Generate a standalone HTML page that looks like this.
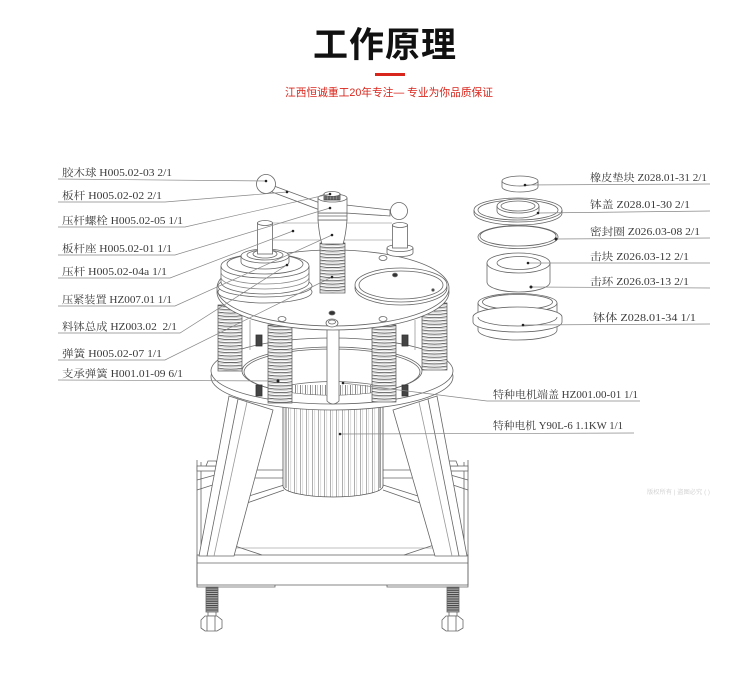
<!DOCTYPE html>
<html><head><meta charset="utf-8"><style>
html,body{margin:0;padding:0;background:#fff;}
body{width:750px;height:676px;overflow:hidden;}
svg{display:block;}
.lb{font-family:"Liberation Serif","Noto Serif CJK SC",serif;font-size:10.5px;fill:#3a3a3a;white-space:pre;}
</style></head><body>
<svg width="750" height="676" viewBox="0 0 750 676" xmlns="http://www.w3.org/2000/svg">
<defs>
<pattern id="coil" patternUnits="userSpaceOnUse" width="26" height="3.3">
<rect width="26" height="3.3" fill="#fff"/>
<path d="M0,0.5 Q12.5,2.6 25,0.5" fill="none" stroke="#333" stroke-width="0.7"/>
<path d="M0,1.8 Q12.5,3.8 25,1.8" fill="none" stroke="#aaa" stroke-width="0.5"/>
</pattern>
<pattern id="ribs" patternUnits="userSpaceOnUse" width="6" height="4">
<rect width="6" height="4" fill="#fff"/>
<line x1="0.5" y1="0" x2="0.5" y2="4" stroke="#777" stroke-width="0.6"/>
<line x1="2.8" y1="0" x2="2.8" y2="4" stroke="#bbb" stroke-width="0.5"/>
</pattern>
<pattern id="teeth" patternUnits="userSpaceOnUse" width="5" height="4">
<rect width="5" height="4" fill="#fff"/>
<line x1="0.5" y1="0" x2="0.5" y2="4" stroke="#555" stroke-width="0.7"/>
<line x1="2.5" y1="0" x2="2.5" y2="4" stroke="#999" stroke-width="0.5"/>
</pattern>
<pattern id="thread" patternUnits="userSpaceOnUse" width="14" height="2.2">
<rect width="14" height="2.2" fill="#bbb"/>
<line x1="0" y1="0.6" x2="14" y2="0.6" stroke="#333" stroke-width="1"/>
</pattern>
<clipPath id="opening"><ellipse cx="332" cy="372" rx="88" ry="23"/></clipPath>
</defs>

<!-- Title -->
<text x="385" y="57" text-anchor="middle" font-family="'Liberation Sans','Noto Sans CJK SC',sans-serif" font-size="35" font-weight="bold" fill="#111" letter-spacing="1">工作原理</text>
<rect x="375" y="73" width="30" height="3" fill="#d9261c"/>
<text x="285" y="96" font-family="'Liberation Sans','Noto Sans CJK SC',sans-serif" font-size="11" fill="#d9261c" textLength="208" lengthAdjust="spacingAndGlyphs">江西恒诚重工20年专注— 专业为你品质保证</text>

<g fill="none" stroke="#666" stroke-width="0.8">
<!-- Base -->
<line x1="230" y1="548" x2="435" y2="548" stroke="#aaa"/>
<rect x="197" y="555" width="271" height="30" fill="#fff"/>
<line x1="197" y1="563" x2="468" y2="563"/>
<path d="M197,585 L197,587 L275,587 L275,585 M387,585 L387,587 L468,587 L468,585"/>
<line x1="197" y1="460" x2="197" y2="585"/>
<line x1="201" y1="462" x2="201" y2="555"/>
<line x1="468" y1="460" x2="468" y2="585"/>
<line x1="464" y1="462" x2="464" y2="555"/>
<path d="M226,543 L262,555 M226,543 L226,555 M440,543 L404,555 M440,543 L440,555"/>
<!-- brackets on uprights -->
<rect x="197" y="466" width="31" height="5" fill="#fff"/>
<polygon points="206,466 208,461 216,461 218,466" fill="#fff"/>
<path d="M197,480 L226,472 M197,490 L222,482"/>
<rect x="437" y="466" width="31" height="5" fill="#fff"/>
<polygon points="446,466 448,461 456,461 458,466" fill="#fff"/>
<path d="M468,480 L440,472 M468,490 L444,482"/>
<!-- cross beams -->
<path d="M257,470 L284,470 M255,478 L284,478 M247,503 L284,490 M249,496 L284,485"/>
<path d="M383,470 L410,470 M383,478 L412,478 M383,490 L420,503 M383,485 L418,496"/>
<!-- Legs -->
<polygon points="229,396 273,410 234,556 199,556" fill="#fff"/>
<line x1="238" y1="399" x2="207" y2="556"/>
<line x1="247" y1="402" x2="214" y2="556" stroke="#999"/>
<polygon points="393,410 437,396 467,556 435,556" fill="#fff"/>
<line x1="428" y1="399" x2="459" y2="556"/>
<line x1="419" y1="402" x2="452" y2="556" stroke="#999"/>

<!-- Feet -->
<rect x="206" y="587" width="12" height="25" fill="url(#thread)"/>
<rect x="208" y="612" width="8" height="4" fill="#fff"/>
<polygon points="201,620 205,616 217,616 222,620 222,628 217,631 205,631 201,628" fill="#fff"/>
<path d="M207,616 L207,631 M215,616 L215,631"/>
<rect x="447" y="587" width="12" height="25" fill="url(#thread)"/>
<rect x="449" y="612" width="8" height="4" fill="#fff"/>
<polygon points="442,620 446,616 458,616 463,620 463,628 458,631 446,631 442,628" fill="#fff"/>
<path d="M448,616 L448,631 M456,616 L456,631"/>

<!-- Motor -->
<path d="M283,398 L383,398 L383,486 A50,11 0 0 1 283,486 Z" fill="url(#ribs)" stroke="#555"/>
<path d="M286,400 L286,488 M380,400 L380,488" stroke="#555"/>

<!-- Lower plate -->
<ellipse cx="332" cy="377" rx="121" ry="33" fill="#fff"/>
<ellipse cx="332" cy="371" rx="121" ry="33" fill="#fff"/>
<ellipse cx="332" cy="371" rx="90" ry="24" fill="#fff"/>
<ellipse cx="332" cy="372" rx="88" ry="23" fill="#fff"/>
<g clip-path="url(#opening)">
<rect x="290" y="385" width="86" height="14" fill="url(#teeth)" stroke="none"/>
<path d="M290,385 Q333,378 376,385"/>
</g>

<!-- back springs -->
<g transform="translate(218,305)"><rect width="24" height="66" fill="url(#coil)" stroke="#555" stroke-width="0.7"/></g>
<g transform="translate(422,303)"><rect width="25" height="67" fill="url(#coil)" stroke="#555" stroke-width="0.7"/></g>
<path d="M250,320 L250,350 M415,320 L415,350" stroke="#999"/>
<rect x="256" y="335" width="6" height="11" fill="#444" stroke="#333"/>
<rect x="402" y="335" width="6" height="11" fill="#444" stroke="#333"/>
<!-- shaft -->
<path d="M327,318 L327,401 Q333,407 339,401 L339,318" fill="#fff"/>
<!-- front springs -->
<g transform="translate(268,325)"><rect width="24" height="78" fill="url(#coil)" stroke="#555" stroke-width="0.7"/></g>
<g transform="translate(372,325)"><rect width="24" height="77" fill="url(#coil)" stroke="#555" stroke-width="0.7"/></g>
<rect x="256" y="385" width="6" height="11" fill="#444" stroke="#333"/>
<rect x="402" y="385" width="6" height="11" fill="#444" stroke="#333"/>

<!-- Top plate -->
<ellipse cx="333" cy="292" rx="116" ry="38" fill="#fff"/>
<ellipse cx="333" cy="288" rx="116" ry="38" fill="#fff"/>
<ellipse cx="282" cy="319" rx="4" ry="2.5" fill="#fff"/>
<ellipse cx="383" cy="319" rx="4" ry="2.5" fill="#fff"/>
<ellipse cx="383" cy="258" rx="4" ry="2.5" fill="#fff"/>
<ellipse cx="332" cy="313" rx="3" ry="2" fill="#333"/>
<ellipse cx="332" cy="323" rx="6" ry="4" fill="#fff"/>
<ellipse cx="332" cy="322" rx="3.5" ry="2"/>
<!-- ring on plate -->
<ellipse cx="401" cy="288" rx="46" ry="17" fill="#fff"/>
<ellipse cx="401" cy="285" rx="46" ry="17" fill="#fff"/>
<ellipse cx="401" cy="285" rx="42" ry="14"/>
<ellipse cx="395" cy="275" rx="2.5" ry="1.8" fill="#333"/>
<circle cx="433" cy="290" r="1.2" fill="#333"/>

<!-- back horizontal lines -->
<path d="M272,223 L392,223 M272,240 L392,240" stroke="#aaa"/>

<!-- screw spring -->
<g transform="translate(320,243)"><rect width="25" height="50" fill="url(#coil)" stroke="#555" stroke-width="0.7"/></g>

<!-- pulley stack -->
<ellipse cx="265" cy="292" rx="47" ry="11" fill="#fff"/>
<ellipse cx="265" cy="286" rx="47" ry="11" fill="#fff"/>
<path d="M221,266 L221,282 A44,12 0 0 0 309,282 L309,266" fill="#fff"/>
<path d="M221,272 A44,12 0 0 0 309,272 M221,277 A44,12 0 0 0 309,277" stroke="#888"/>
<ellipse cx="265" cy="266" rx="44" ry="12" fill="#fff"/>
<ellipse cx="265" cy="264" rx="38" ry="10"/>
<path d="M241,256 L241,262 A24,7 0 0 0 289,262 L289,256" fill="#fff"/>
<ellipse cx="265" cy="256" rx="24" ry="7" fill="#fff"/>
<ellipse cx="265" cy="255" rx="18" ry="5"/>
<ellipse cx="265" cy="254" rx="12" ry="4" fill="#fff"/>
<rect x="257.5" y="223" width="15" height="31" fill="#fff"/>
<ellipse cx="265" cy="223" rx="7.5" ry="2.5" fill="#fff"/>

<!-- central collar -->
<path d="M318,220 C319,232 320,238 322,244 L343,244 C345,238 346,232 347,220 Z" fill="#fff"/>
<rect x="318" y="213" width="29" height="7" fill="#fff"/>
<line x1="318" y1="216" x2="347" y2="216"/>
<!-- handle bars -->
<polygon points="274,186 320,203 320,210 272,192" fill="#fff"/>
<polygon points="346,205 390,210 390,216 346,213" fill="#fff"/>
<rect x="318" y="198" width="29" height="15" fill="#fff"/>
<ellipse cx="332.5" cy="198" rx="14.5" ry="4" fill="#fff"/>
<rect x="324" y="194" width="16" height="6" fill="#888" stroke="#444"/>
<ellipse cx="332" cy="194" rx="8" ry="2.5" fill="#fff"/>
<path d="M326,196 L326,200 M329,196 L329,200 M332,196 L332,200 M335,196 L335,200 M338,196 L338,200" stroke="#333"/>
<circle cx="266" cy="184" r="9.5" fill="#fff"/>
<circle cx="399" cy="211" r="8.5" fill="#fff"/>
<!-- right post -->
<path d="M387,248 L387,253 A13,3.5 0 0 0 413,253 L413,248" fill="#fff"/>
<ellipse cx="400" cy="248" rx="13" ry="3.5" fill="#fff"/>
<rect x="392.5" y="225" width="15" height="23" fill="#fff"/>
<ellipse cx="400" cy="225" rx="7.5" ry="2.5" fill="#fff"/>

<!-- Right exploded parts -->
<!-- pad -->
<path d="M502,181 L502,187 A18,5 0 0 0 538,187 L538,181" fill="#fff"/>
<ellipse cx="520" cy="181" rx="18" ry="5" fill="#fff"/>
<!-- cover -->
<path d="M474,210 L474,213 A44,12 0 0 0 562,213 L562,210" fill="#fff"/>
<ellipse cx="518" cy="210" rx="44" ry="12" fill="#fff"/>
<ellipse cx="518" cy="210" rx="40" ry="10"/>
<path d="M497,206 L497,211 A21,7 0 0 0 539,211 L539,206" fill="#fff"/>
<ellipse cx="518" cy="206" rx="21" ry="7" fill="#fff"/>
<ellipse cx="518" cy="206" rx="17" ry="5"/>
<!-- seal -->
<ellipse cx="518" cy="237" rx="40" ry="11.5" fill="#fff"/>
<ellipse cx="518" cy="236" rx="38" ry="10"/>
<!-- block -->
<path d="M487,263 L487,282 A31.5,10 0 0 0 550,282 L550,263" fill="#fff"/>
<ellipse cx="518.5" cy="263" rx="31.5" ry="10" fill="#fff"/>
<ellipse cx="519" cy="263" rx="22" ry="6.5"/>
<!-- body -->
<path d="M478,303 L478,330 A39.5,10 0 0 0 557,330 L557,303" fill="#fff"/>
<ellipse cx="517.5" cy="303" rx="39.5" ry="9.5" fill="#fff"/>
<ellipse cx="517.5" cy="302" rx="35" ry="7.5"/>
<path d="M473,317 L473,322 A44.5,10 0 0 0 562,322 L562,317 A44.5,10 0 0 0 473,317" fill="#fff"/>
<path d="M478,317 A39.5,9 0 0 0 557,317"/>
</g>

<!-- Leader lines -->
<g fill="none" stroke="#888" stroke-width="0.7">
<path d="M58,179 L266,181"/>
<path d="M58,202 L165,202 L287,192"/>
<path d="M58,227 L185,227 L330,194"/>
<path d="M58,255 L175,255 L330,208"/>
<path d="M58,278 L170,278 L293,231"/>
<path d="M58,306 L175,306 L332,235"/>
<path d="M58,333 L180,333 L287,265"/>
<path d="M58,360 L165,360 L332,277"/>
<path d="M58,380 L278,381"/>
<path d="M525,185 L710,184"/>
<path d="M538,213 L710,211"/>
<path d="M556,239 L710,238"/>
<path d="M528,263 L710,263"/>
<path d="M531,287 L710,288"/>
<path d="M523,325 L710,324"/>
<path d="M343,383 L487,401 L640,401"/>
<path d="M340,434 L634,433"/>
</g>
<g fill="#222">
<circle cx="266" cy="181" r="1.3"/><circle cx="287" cy="192" r="1.3"/><circle cx="330" cy="194" r="1.3"/>
<circle cx="330" cy="208" r="1.3"/><circle cx="293" cy="231" r="1.3"/><circle cx="332" cy="235" r="1.3"/>
<circle cx="287" cy="265" r="1.3"/><circle cx="332" cy="277" r="1.3"/><circle cx="278" cy="381" r="1.5"/>
<circle cx="525" cy="185" r="1.3"/><circle cx="538" cy="213" r="1.3"/><circle cx="556" cy="239" r="1.5"/>
<circle cx="528" cy="263" r="1.3"/><circle cx="531" cy="287" r="1.5"/><circle cx="523" cy="325" r="1.3"/>
<circle cx="343" cy="383" r="1.3"/><circle cx="340" cy="434" r="1.3"/>
</g>

<!-- Labels left -->
<text class="lb" x="62" y="176" textLength="110" lengthAdjust="spacingAndGlyphs">胶木球 H005.02-03 2/1</text>
<text class="lb" x="62" y="199" textLength="100" lengthAdjust="spacingAndGlyphs">板杆 H005.02-02 2/1</text>
<text class="lb" x="62" y="224" textLength="121" lengthAdjust="spacingAndGlyphs">压杆螺栓 H005.02-05 1/1</text>
<text class="lb" x="62" y="252" textLength="110" lengthAdjust="spacingAndGlyphs">板杆座 H005.02-01 1/1</text>
<text class="lb" x="62" y="275" textLength="105" lengthAdjust="spacingAndGlyphs">压杆 H005.02-04a 1/1</text>
<text class="lb" x="62" y="303" textLength="110" lengthAdjust="spacingAndGlyphs">压紧装置 HZ007.01 1/1</text>
<text class="lb" x="62" y="330" textLength="115" lengthAdjust="spacingAndGlyphs">料钵总成 HZ003.02  2/1</text>
<text class="lb" x="62" y="357" textLength="100" lengthAdjust="spacingAndGlyphs">弹簧 H005.02-07 1/1</text>
<text class="lb" x="62" y="377" textLength="121" lengthAdjust="spacingAndGlyphs">支承弹簧 H001.01-09 6/1</text>

<!-- Labels right -->
<text class="lb" x="590" y="181" textLength="117" lengthAdjust="spacingAndGlyphs">橡皮垫块 Z028.01-31 2/1</text>
<text class="lb" x="590" y="208" textLength="100" lengthAdjust="spacingAndGlyphs">钵盖 Z028.01-30 2/1</text>
<text class="lb" x="590" y="235" textLength="110" lengthAdjust="spacingAndGlyphs">密封圈 Z026.03-08 2/1</text>
<text class="lb" x="590" y="260" textLength="99" lengthAdjust="spacingAndGlyphs">击块 Z026.03-12 2/1</text>
<text class="lb" x="590" y="285" textLength="99" lengthAdjust="spacingAndGlyphs">击环 Z026.03-13 2/1</text>
<text class="lb" x="593" y="321" textLength="103" lengthAdjust="spacingAndGlyphs">钵体 Z028.01-34 1/1</text>
<text class="lb" x="493" y="398" textLength="145" lengthAdjust="spacingAndGlyphs">特种电机端盖 HZ001.00-01 1/1</text>
<text class="lb" x="493" y="429" textLength="130" lengthAdjust="spacingAndGlyphs">特种电机 Y90L-6 1.1KW 1/1</text>

<text x="647" y="494" font-family="'Liberation Sans','Noto Sans CJK SC',sans-serif" font-size="6" fill="#d4d4d4" textLength="63" lengthAdjust="spacingAndGlyphs">版权所有 | 盗图必究 ( )</text>
</svg>
</body></html>
